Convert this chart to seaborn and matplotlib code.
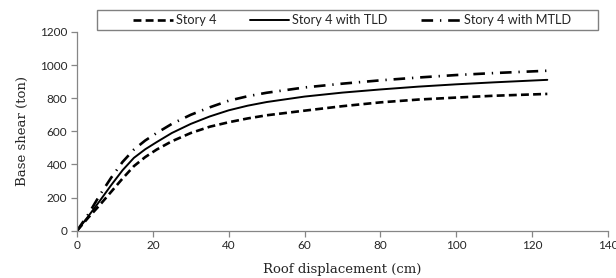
import matplotlib
matplotlib.use("Agg")
import matplotlib.pyplot as plt
from matplotlib.patches import Rectangle
import seaborn as sns
import pandas as pd

# Data
roof_disp = [0, 3, 6, 9, 12, 15, 18, 21, 25, 30, 35, 40, 45, 50, 60, 70, 80, 90, 100, 110, 124]
story4 = [0, 80, 155, 235, 315, 390, 445, 490, 540, 590, 628, 655, 678, 697, 725, 752, 775, 792, 804, 815, 826]
story4_tld = [0, 88, 180, 275, 365, 440, 492, 535, 590, 645, 690, 727, 755, 777, 810, 834, 853, 870, 884, 896, 911]
story4_mtld = [0, 100, 215, 320, 415, 490, 545, 590, 645, 700, 745, 785, 812, 833, 865, 888, 908, 925, 940, 952, 966]
series_names = ["Story 4", "Story 4 with TLD", "Story 4 with MTLD"]
x_ticks = [0, 20, 40, 60, 80, 100, 120, 140]
y_ticks = [0, 200, 400, 600, 800, 1000, 1200]

sns.set_style("white")
plt.rcParams["font.family"] = ["Lato", "DejaVu Sans"]

fig = plt.figure(figsize=(6.16, 2.78), dpi=100)
ax = fig.add_axes([0.125, 0.170, 0.862, 0.715])

styles = [
    dict(linestyle=(0, (3, 1.6)), linewidth=1.9),
    dict(linestyle="-", linewidth=1.4),
    dict(linestyle=(0, (4.4, 2.6, 0.5, 2.6)), linewidth=1.9),
]
for name, vals, st in zip(series_names, [story4, story4_tld, story4_mtld], styles):
    df = pd.DataFrame({"x": roof_disp, "y": vals})
    sns.lineplot(data=df, x="x", y="y", ax=ax, color="black", label=name,
                 sort=True, **st)

ax.set_xlim(0, 140)
ax.set_ylim(0, 1200)
ax.set_xticks(x_ticks)
ax.set_yticks(y_ticks)
ax.tick_params(axis="both", labelsize=8.5, length=4, width=0.9,
               color="#868686", direction="out", pad=3,
               bottom=True, left=True)
for s in ["top", "right"]:
    ax.spines[s].set_visible(False)
for s in ["left", "bottom"]:
    ax.spines[s].set_color("#868686")
    ax.spines[s].set_linewidth(0.9)

ax.set_xlabel("Roof displacement (cm)", family="DejaVu Serif", fontsize=9.5, labelpad=8)
ax.set_ylabel("Base shear (ton)", family="DejaVu Serif", fontsize=9.5, labelpad=8)

leg = ax.legend(loc="center", bbox_to_anchor=(0.518, 1.060),
                ncol=3, frameon=False, fontsize=9.2, handlelength=3.1,
                handletextpad=0.25, columnspacing=2.6, borderaxespad=0,
                borderpad=0)
ax.add_patch(Rectangle((0.0377, 1.010), 0.9435, 0.1007, transform=ax.transAxes,
                       fill=False, edgecolor="#808080", linewidth=1.0,
                       clip_on=False))

fig.savefig("out.png", dpi=100)
